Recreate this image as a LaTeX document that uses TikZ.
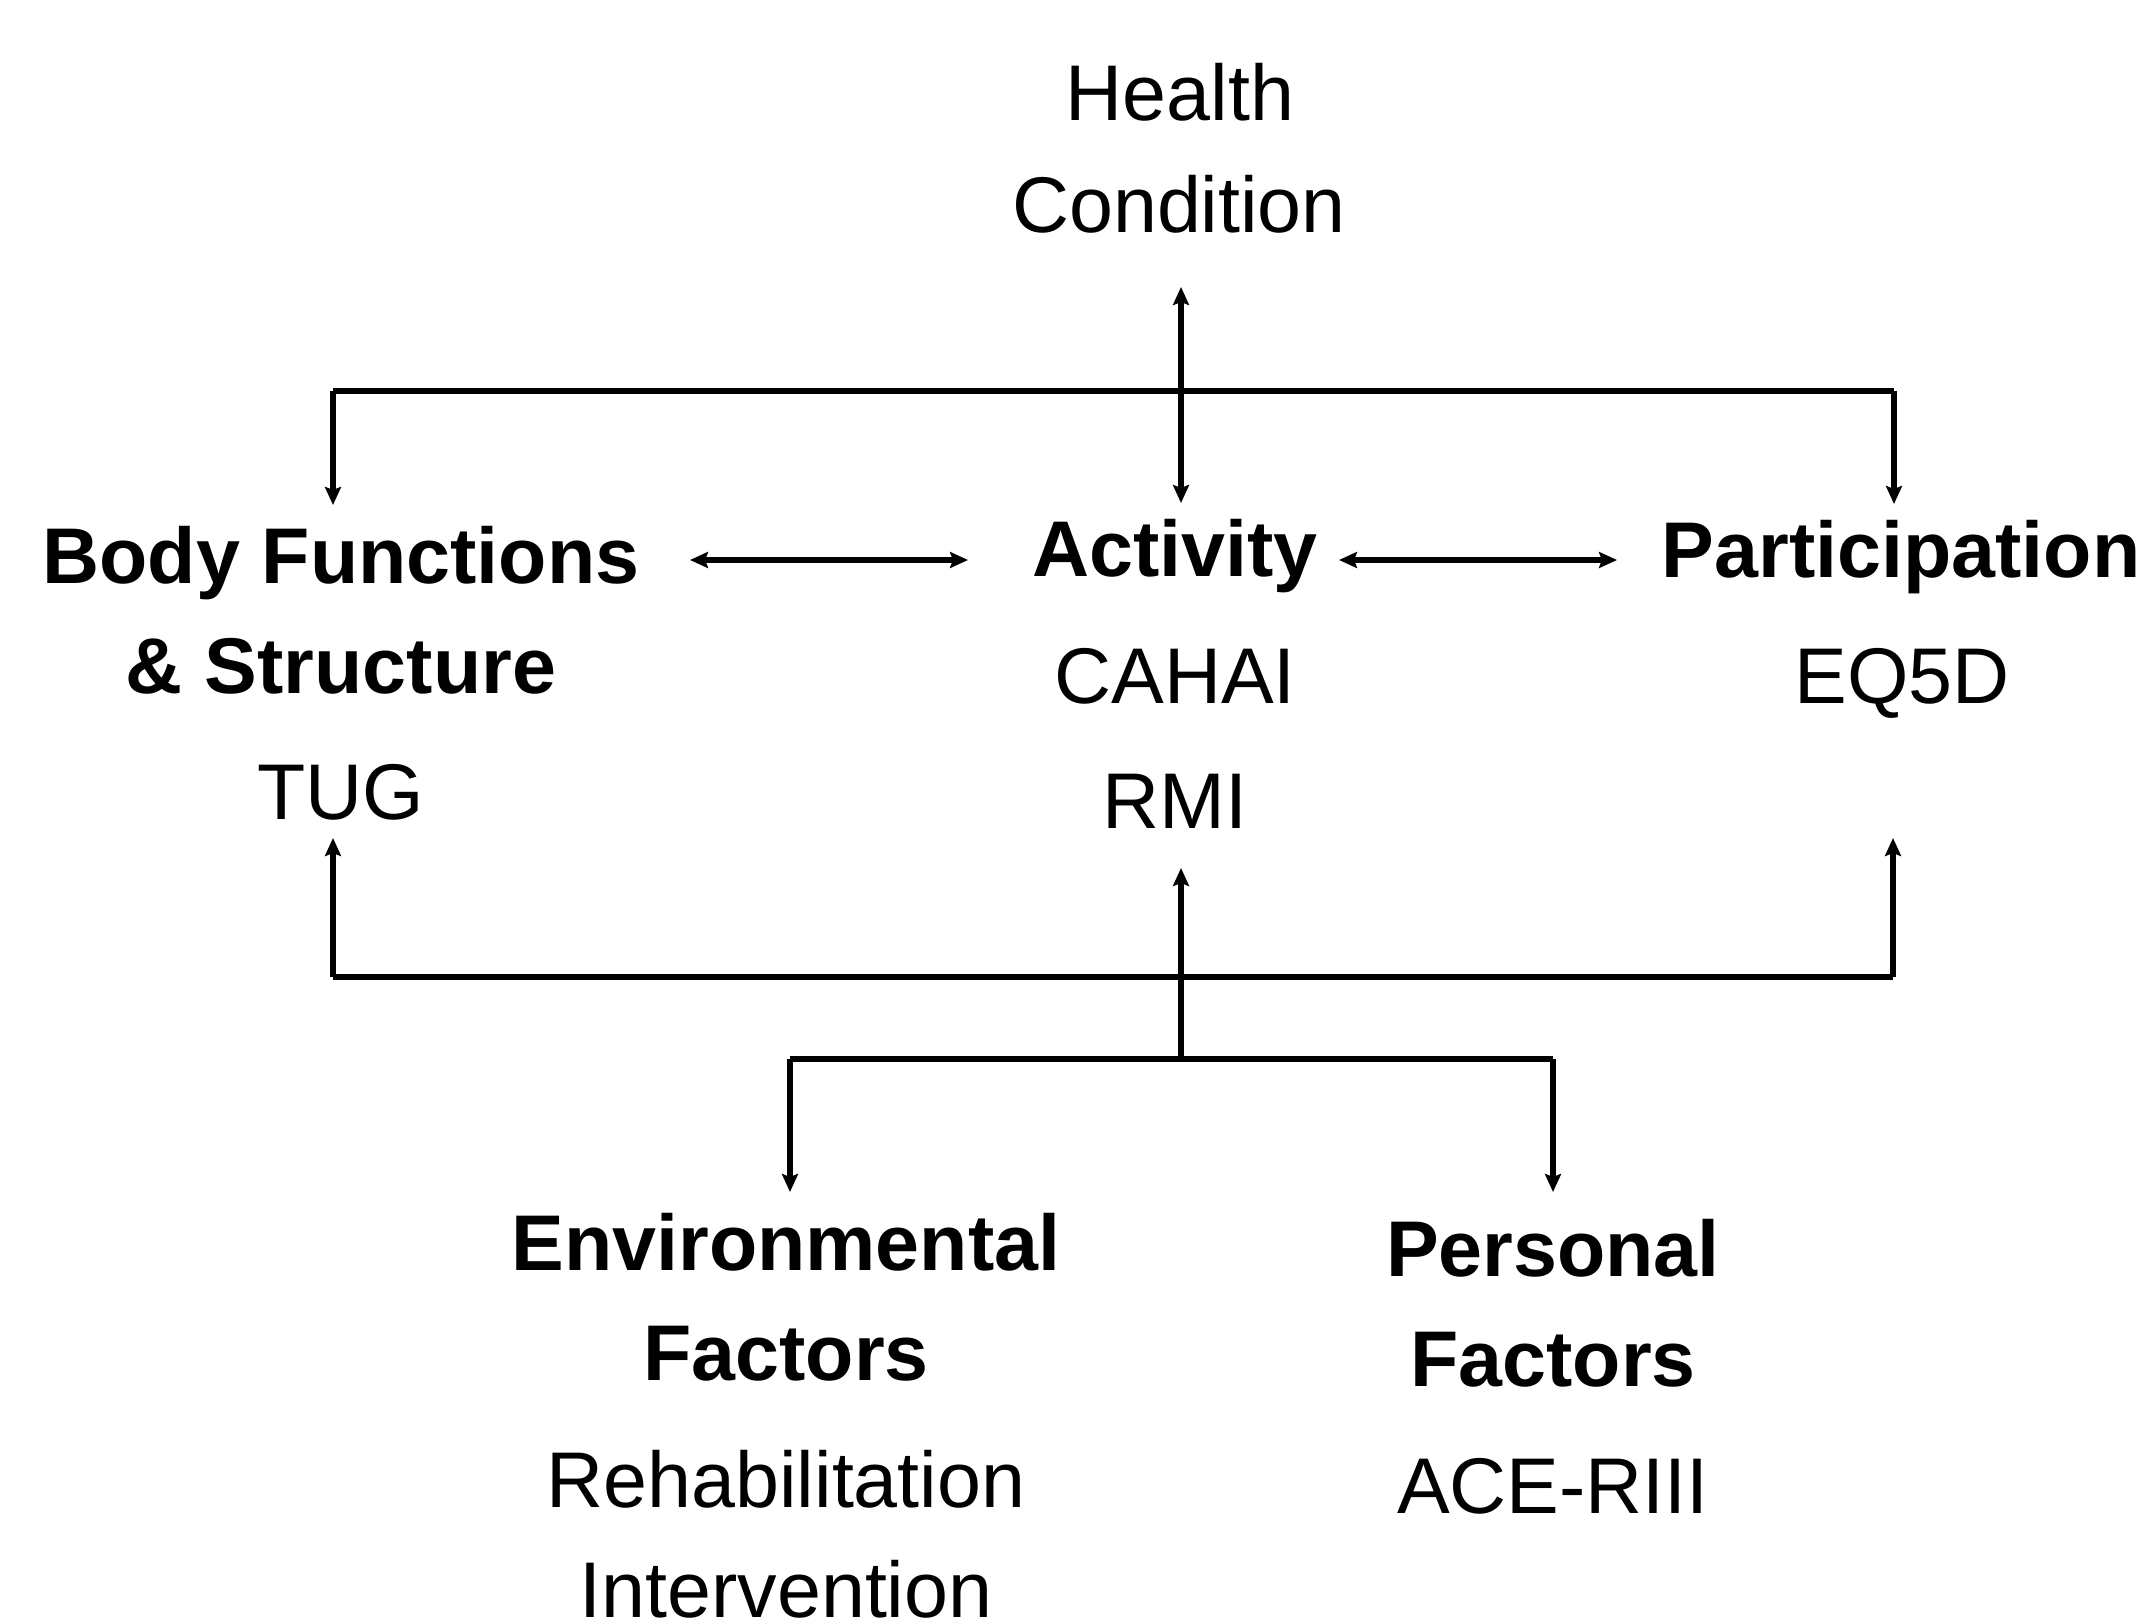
\documentclass[tikz,border=0pt]{standalone}
\usepackage{fontspec}
\setmainfont{Liberation Sans}
\usetikzlibrary{arrows.meta}
\begin{document}
\begin{tikzpicture}[x=0.5pt,y=-0.5pt,
  txt/.style={inner sep=0pt,anchor=base,font=\fontsize{39.5}{40}\selectfont},
  btxt/.style={txt,font=\fontsize{39.5}{40}\selectfont\bfseries},
  conn/.style={line width=2.8pt},
  arr/.style={conn,-{Stealth[length=9pt,width=8pt,inset=1.5pt]}},
  darr/.style={conn,{Stealth[length=9pt,width=8pt,inset=1.5pt]}-{Stealth[length=9pt,width=8pt,inset=1.5pt]}}]
\useasboundingbox (0,0) rectangle (2151,1621);
% texts
\node[txt] (health) at (1180,121) {Health};
\node[txt] (cond) at (1179,233) {Condition};
\node[btxt] (bf) at (341,583) {Body Functions};
\node[btxt] (bs) at (341,693) {\& Structure};
\node[txt] (tug) at (341,819) {TUG};
\node[btxt] (act) at (1175,576) {Activity};
\node[txt] (cahai) at (1175,703) {CAHAI};
\node[txt] (rmi) at (1175,828) {RMI};
\node[btxt] (part) at (1901,577) {Participation};
\node[txt] (eq) at (1902,703) {EQ5D};
\node[btxt] (env) at (786,1270) {Environmental};
\node[btxt] (envf) at (786,1380) {Factors};
\node[txt] (rehab) at (786,1507) {Rehabilitation};
\node[txt] (interv) at (786,1617) {Intervention};
\node[btxt] (pers) at (1553,1276) {Personal};
\node[btxt] (persf) at (1553,1386) {Factors};
\node[txt] (ace) at (1553,1513) {ACE-RIII};
% junction coordinates
\coordinate (hcTip) at (1181,287);
\coordinate (actTip) at (1181,503);
\coordinate (tl) at (333,391);
\coordinate (tr) at (1894,391);
\coordinate (bfTip) at (333,505);
\coordinate (partTip) at (1894,504);
\coordinate (bfL) at (690,560);
\coordinate (actL) at (968,560);
\coordinate (actR) at (1339,560);
\coordinate (partR) at (1617,560);
\coordinate (ml) at (333,977);
\coordinate (mr) at (1893,977);
\coordinate (mc) at (1181,977);
\coordinate (lc) at (1181,1059);
\coordinate (ll) at (790,1059);
\coordinate (lr) at (1553,1059);
\coordinate (tugTip) at (333,838);
\coordinate (rmiTip) at (1181,868);
\coordinate (eqTip) at (1893,838);
\coordinate (envTip) at (790,1192);
\coordinate (persTip) at (1553,1192);
% connectors
\draw[darr] (hcTip) -- (actTip);
\draw[conn] (tl) -- (tr);
\draw[arr] (tl) -- (bfTip);
\draw[arr] (tr) -- (partTip);
\draw[darr] (bfL) -- (actL);
\draw[darr] (actR) -- (partR);
\draw[conn] (ml) -- (mr);
\draw[arr] (ml) -- (tugTip);
\draw[arr] (mr) -- (eqTip);
\draw[arr] (lc) -- (rmiTip);
\draw[conn] (ll) -- (lr);
\draw[arr] (ll) -- (envTip);
\draw[arr] (lr) -- (persTip);
\end{tikzpicture}
\end{document}
